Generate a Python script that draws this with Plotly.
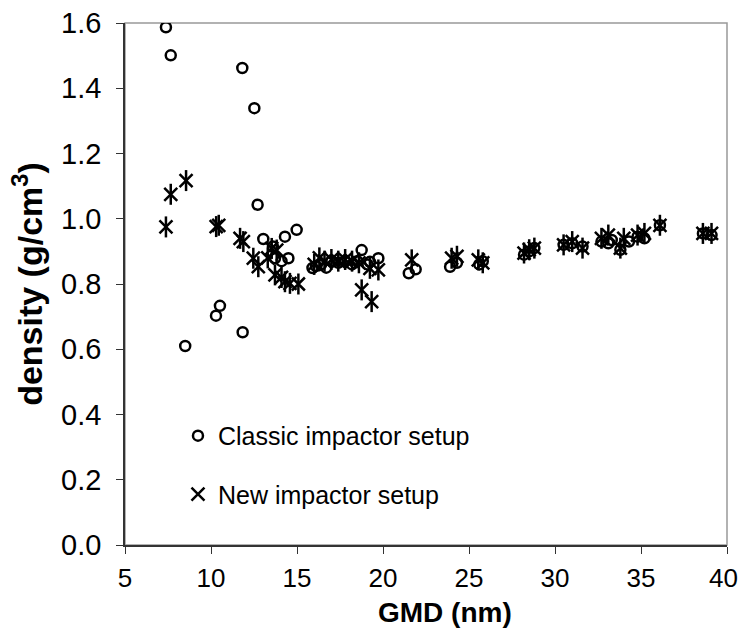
import plotly.graph_objects as go

# Classic impactor setup (circles)
classic_gmd = [7.38, 7.66, 8.5, 10.29, 10.52, 11.82, 12.52, 11.84, 12.71, 13.04,
               14.30, 14.98, 13.72, 14.50, 13.60, 14.1,
               15.9, 16.1, 16.4, 16.7, 17.0, 17.4, 17.8, 18.2, 18.5, 18.76, 19.1, 19.24, 19.73,
               21.5, 21.9, 23.9, 24.3, 25.6, 25.8,
               28.2, 28.5, 28.8, 30.5, 31.0, 31.6, 32.7, 33.1, 33.3, 33.8, 34.3, 34.8, 35.2,
               36.1, 38.6, 39.1]
classic_density = [1.587, 1.501, 0.61, 0.703, 0.733, 1.462, 1.339, 0.652, 1.043, 0.938,
                   0.945, 0.966, 0.879, 0.879, 0.915, 0.87,
                   0.849, 0.855, 0.86, 0.85, 0.87, 0.865, 0.87, 0.86, 0.87, 0.904, 0.86, 0.868, 0.879,
                   0.833, 0.845, 0.853, 0.865, 0.86, 0.87,
                   0.89, 0.90, 0.91, 0.92, 0.925, 0.915, 0.93, 0.925, 0.935, 0.905, 0.93, 0.945, 0.94,
                   0.98, 0.955, 0.95]

# New impactor setup (asterisks)
new_gmd = [7.38, 7.66, 8.55, 10.30, 10.45, 11.69, 11.88, 12.46, 12.75, 13.53, 13.82, 13.3,
           13.72, 14.1, 14.30, 14.59, 15.08,
           16.0, 16.3, 16.6, 17.0, 17.4, 17.8, 18.2, 18.6, 18.76, 19.34, 19.24, 19.73,
           21.67, 23.99, 24.3, 25.54, 25.8,
           28.2, 28.5, 28.8, 30.5, 31.0, 31.6, 32.7, 33.1, 33.8, 34.0, 34.8, 35.2,
           36.1, 38.6, 39.1]
new_density = [0.975, 1.075, 1.117, 0.976, 0.98, 0.940, 0.930, 0.879, 0.853, 0.909, 0.904, 0.88,
               0.828, 0.82, 0.807, 0.802, 0.800,
               0.86, 0.88, 0.87, 0.875, 0.87, 0.875, 0.87, 0.865, 0.782, 0.746, 0.848, 0.843,
               0.874, 0.879, 0.885, 0.874, 0.865,
               0.895, 0.905, 0.91, 0.92, 0.93, 0.91, 0.94, 0.95, 0.91, 0.94, 0.95, 0.955,
               0.98, 0.955, 0.955]

x_ticks = [5, 10, 15, 20, 25, 30, 35, 40]
x_tick_text = ["5", "10", "15", "20", "25", "30", "35", "40\u00a0"]
y_ticks = [0.0, 0.2, 0.4, 0.6, 0.8, 1.0, 1.2, 1.4, 1.6]

FONT = "Liberation Sans, Arial, sans-serif"

fig = go.Figure()
fig.add_trace(go.Scatter(
    x=classic_gmd, y=classic_density, mode="markers", name="Classic impactor setup",
    legendgroup="a",
    marker=dict(symbol="circle-open", size=10, color="black",
                line=dict(color="black", width=2.5))))
fig.add_trace(go.Scatter(
    x=new_gmd, y=new_density, mode="markers", name="New impactor setup",
    legendgroup="b", showlegend=False,
    marker=dict(symbol="line-ns-open", size=15, color="black",
                line=dict(color="black", width=2.5))))
fig.add_trace(go.Scatter(
    x=new_gmd, y=new_density, mode="markers", name="New impactor setup",
    legendgroup="b",
    marker=dict(symbol="x-thin-open", size=13, color="black",
                line=dict(color="black", width=2.5))))

fig.update_layout(
    width=739, height=643,
    margin=dict(l=125, r=12, t=23, b=98, autoexpand=False),
    paper_bgcolor="white", plot_bgcolor="white",
    font=dict(family=FONT, size=25, color="black"),
    legend=dict(x=0.088, y=0.253, xanchor="left", yanchor="top",
                traceorder="grouped", tracegroupgap=23,
                bgcolor="rgba(0,0,0,0)", font=dict(family=FONT, size=25, color="black"),
                itemwidth=30),
    xaxis=dict(range=[5, 40], tickvals=x_ticks, ticktext=x_tick_text,
               ticks="outside", ticklen=7,
               tickcolor="#333", showline=True, linecolor="#333", linewidth=1.5,
               showgrid=False, zeroline=False, ticklabelstandoff=2,
               ticklabeloverflow="allow", automargin=False,
               tickfont=dict(family=FONT, size=26, color="black")),
    yaxis=dict(range=[0, 1.6], tickvals=y_ticks, tickformat=".1f", ticks="outside",
               ticklen=7, tickcolor="#333", showline=True, linecolor="#333", linewidth=1.5,
               showgrid=False, zeroline=False, ticklabelstandoff=9, automargin=False,
               tickfont=dict(family=FONT, size=29, color="black"),
               title=dict(text="<b>density (g/cm<sup>3</sup>)</b>", standoff=8,
                          font=dict(family=FONT, size=34, color="black"))),
    annotations=[dict(text="<b>GMD (nm)</b>", xref="paper", yref="paper",
                      x=0.532, y=-0.130, xanchor="center", yanchor="middle",
                      showarrow=False, font=dict(family=FONT, size=28, color="black"))],
    shapes=[dict(type="rect", xref="x domain", yref="y domain", x0=0, x1=1, y0=0, y1=1,
                 line=dict(color="#999", width=1.5), layer="below")],
)

fig.write_html("out.html")
